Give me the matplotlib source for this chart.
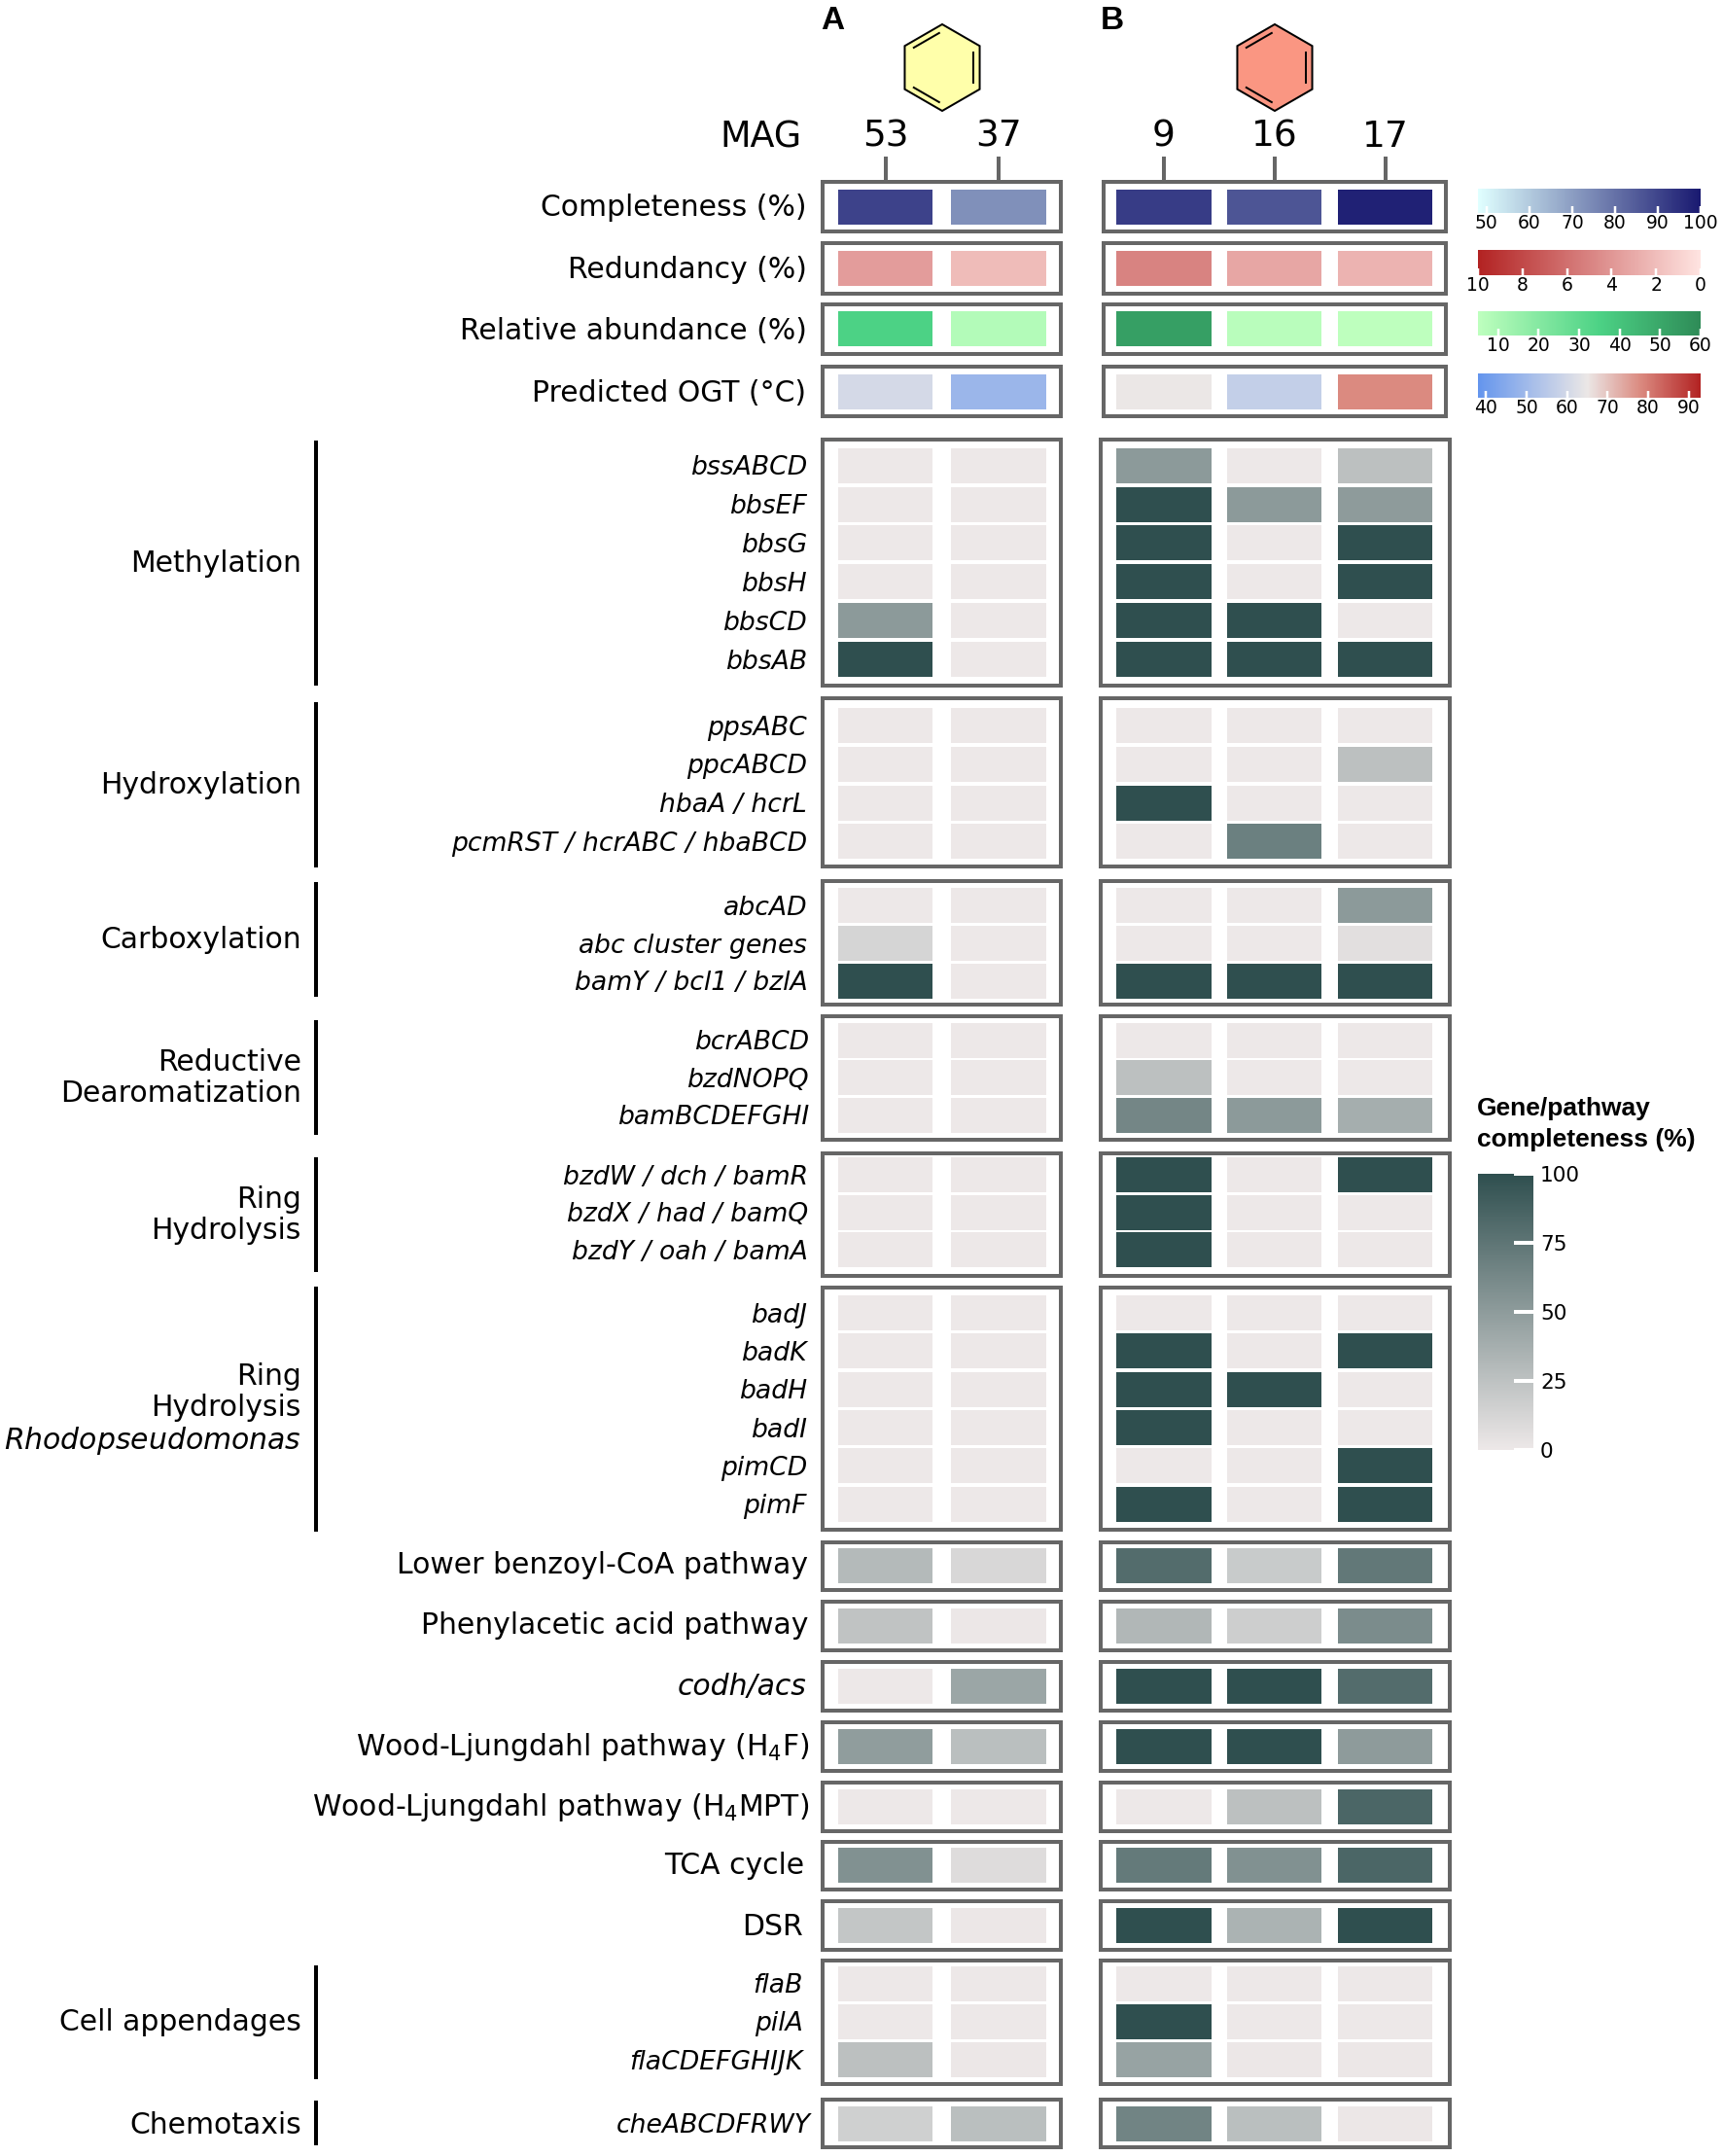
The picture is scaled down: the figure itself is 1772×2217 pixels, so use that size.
import matplotlib
matplotlib.use("Agg")
import matplotlib.pyplot as plt
import numpy as np
from matplotlib.colors import LinearSegmentedColormap, Normalize
from matplotlib.cm import ScalarMappable
from matplotlib.patches import Polygon

plt.rcParams['font.family'] = 'DejaVu Sans'
plt.rcParams['mathtext.fontset'] = 'dejavusans'
plt.rcParams['mathtext.default'] = 'regular'

W, H = 1772, 2217
mags_a = ['53', '37']
mags_b = ['9', '16', '17']

# ---- genome statistics (A: 53, 37; B: 9, 16, 17)
completeness = [90.6, 73, 92, 86.5, 98]
redundancy = [3.7, 2.1, 5.0, 3.2, 2.5]
abundance = [35, 8, 53, 6.5, 5]
ogt = [60.4, 49, 65, 57, 78]

# ---- gene / pathway completeness, rows x [53, 37, 9, 16, 17]
methylation_genes = ['bssABCD', 'bbsEF', 'bbsG', 'bbsH', 'bbsCD', 'bbsAB']
methylation = [[0, 0, 51, 0, 26], [0, 0, 100, 51, 50], [0, 0, 100, 0, 100],
               [0, 0, 100, 0, 100], [51, 0, 100, 100, 0], [100, 0, 100, 100, 100]]
hydroxylation_genes = ['ppsABC', 'ppcABCD', 'hbaA / hcrL', 'pcmRST / hcrABC / hbaBCD']
hydroxylation = [[0, 0, 0, 0, 0], [0, 0, 0, 0, 26], [0, 0, 100, 0, 0], [0, 0, 0, 68, 0]]
carboxylation_genes = ['abcAD', 'abc cluster genes', 'bamY / bcl1 / bzlA']
carboxylation = [[0, 0, 0, 0, 51], [12.6, 0, 0, 0, 6], [100, 0, 100, 100, 100]]
dearomatization_genes = ['bcrABCD', 'bzdNOPQ', 'bamBCDEFGHI']
dearomatization = [[0, 0, 0, 0, 0], [0, 0, 26, 0, 0], [0, 0, 64, 51, 38]]
hydrolysis_genes = ['bzdW / dch / bamR', 'bzdX / had / bamQ', 'bzdY / oah / bamA']
hydrolysis = [[0, 0, 100, 0, 100], [0, 0, 100, 0, 0], [0, 0, 100, 0, 0]]
rhodo_genes = ['badJ', 'badK', 'badH', 'badI', 'pimCD', 'pimF']
rhodo = [[0, 0, 0, 0, 0], [0, 0, 100, 0, 100], [0, 0, 100, 100, 0],
         [0, 0, 100, 0, 0], [0, 0, 0, 0, 100], [0, 0, 100, 0, 100]]
lower_benzoyl = [30, 11, 81, 19.5, 73]
phenylacetic = [24, 1, 32, 17, 60]
codh_acs = [0, 43, 100, 100, 81]
wl_h4f = [49, 27, 100, 100, 50]
wl_h4mpt = [0, 0, 0, 26, 85]
tca = [57, 8, 72, 57, 85]
dsr = [22, 1, 100, 35, 100]
appendage_genes = ['flaB', 'pilA', 'flaCDEFGHIJK']
appendages = [[0, 0, 0, 0, 0], [0, 0, 100, 0, 0], [26, 1, 45, 1, 1]]
chemotaxis = [16, 27, 65, 27, 1]

gene_cmap = LinearSegmentedColormap.from_list('g', ['#EDE8E8', '#2F4F4F'])
comp_cmap = LinearSegmentedColormap.from_list('c', ['#E0FFFF', '#191970'])
red_cmap = LinearSegmentedColormap.from_list('r', ['#FFE4E1', '#B22222'])
abd_cmap = LinearSegmentedColormap.from_list('a', [(0, '#BEFFBE'), (30/55, '#4CD285'), (1, '#2E8B57')])
ogt_cmap = LinearSegmentedColormap.from_list('o', [(0, '#6495ED'), (27/55, '#EBE7E6'), (40/55, '#DB8B81'), (1, '#B22222')])
gene_norm = Normalize(0, 100)
comp_norm = Normalize(48, 100)
red_norm = Normalize(0, 10)
abd_norm = Normalize(5, 60)
ogt_norm = Normalize(38, 93)

fig = plt.figure(figsize=(W / 100, H / 100), dpi=100, facecolor='white')
PT = 0.72  # points per pixel at 100 dpi
BOX = '#666666'
FS = 21.5
GENE_FS = 19.2


def rect(l, t, r, b):
    return [l / W, 1 - b / H, (r - l) / W, (b - t) / H]


ov = fig.add_axes([0, 0, 1, 1], zorder=0)
ov.set_xlim(0, W)
ov.set_ylim(H, 0)
ov.axis('off')

A_X = (846.0, 1091.0, 910.5, 116.5)   # box left, right, centre of first cell, pitch
B_X = (1131.5, 1490.5, 1197.0, 113.85)
B_TOP_X = (1135, 1487, 1197.0, 113.85)
CELL_W, CELL_H = 97.2, 36.0


def panel(values, xgeo, box_t, box_b, cell_t, cell_b, cmap, norm, ticks=None):
    values = np.atleast_2d(values)
    nrow, ncol = values.shape
    l, r, c0, pitch = xgeo
    ax = fig.add_axes(rect(l, box_t, r, box_b), zorder=2)
    ypitch = (cell_b - cell_t - CELL_H) / (nrow - 1) if nrow > 1 else 40.0
    y0 = cell_t + CELL_H / 2
    ax.set_xlim((l - c0) / pitch, (r - c0) / pitch)
    ax.set_ylim((box_b - y0) / ypitch, (box_t - y0) / ypitch)
    for i, row in enumerate(values):
        ax.bar(np.arange(ncol), CELL_H / ypitch, width=CELL_W / pitch,
               bottom=i - CELL_H / ypitch / 2, color=cmap(norm(row)), linewidth=0)
    ax.set_yticks([])
    if ticks is None:
        ax.set_xticks([])
    else:
        ax.set_xticks(np.arange(ncol))
        ax.set_xticklabels(ticks, fontsize=27)
        ax.xaxis.tick_top()
        ax.tick_params(axis='x', length=26 * PT, width=4 * PT, color=BOX, pad=1.5, labelcolor='black')
    for s in ax.spines.values():
        s.set_color(BOX)
        s.set_linewidth(4 * PT)
    return y0, ypitch


def row_labels(labels, y0, ypitch, italic=True, x=830, fs=GENE_FS, dy=9.5):
    for i, lab in enumerate(labels):
        ov.text(x, y0 + i * ypitch + dy, lab, ha='right', va='baseline', fontsize=fs,
                style='italic' if italic else 'normal')


def both(values, t, b, ct, cb, cmap=gene_cmap, norm=gene_norm, top=False, ticks=False):
    v = np.atleast_2d(values)
    panel(v[:, :2], A_X, t, b, ct, cb, cmap, norm, mags_a if ticks else None)
    return panel(v[:, 2:], B_TOP_X if top else B_X, t, b, ct, cb, cmap, norm, mags_b if ticks else None)


# statistics rows
rows = [('Completeness (%)', completeness, 187, 238, 195, 231, comp_cmap, comp_norm, True, 8.5),
        ('Redundancy (%)', redundancy, 250, 302, 258, 294, red_cmap, red_norm, False, 10),
        ('Relative abundance (%)', abundance, 313, 364, 320, 356, abd_cmap, abd_norm, False, 11),
        ('Predicted OGT (°C)', ogt, 377, 428, 385, 421, ogt_cmap, ogt_norm, False, 10)]
for lab, vals, t, b, ct, cb, cm, nm, tk, dy in rows:
    y0, yp = both(vals, t, b, ct, cb, cm, nm, top=True, ticks=tk)
    row_labels([lab], y0, yp, italic=False, x=829.5, fs=FS, dy=dy)

# gene groups
groups = [('Methylation', methylation_genes, methylation, 452, 705, 460.7, 696, 453, 705, 830),
          ('Hydroxylation', hydroxylation_genes, hydroxylation, 718, 891, 728.3, 883.3, 722, 892, 830),
          ('Carboxylation', carboxylation_genes, carboxylation, 906, 1033, 913.3, 1027, 907, 1025, 831),
          ('Reductive\nDearomatization', dearomatization_genes, dearomatization, 1045, 1171.5, 1051.7, 1165, 1049, 1167, 832),
          ('Ring\nHydrolysis', hydrolysis_genes, hydrolysis, 1185.5, 1312, 1190.3, 1303.3, 1190, 1308, 831),
          ('Ring\nHydrolysis\n$\\mathit{Rhodopseudomonas}$', rhodo_genes, rhodo, 1324, 1573, 1332, 1564.7, 1323, 1575, 830),
          ('Cell appendages', appendage_genes, appendages, 2016, 2143, 2021.7, 2136, 2021, 2138, 826)]
for name, genes, vals, t, b, ct, cb, lt, lb, lx in groups:
    y0, yp = both(vals, t, b, ct, cb)
    shown = [r'$\mathit{abc}$ cluster genes' if g == 'abc cluster genes' else g for g in genes]
    row_labels(shown, y0, yp, x=lx)
    ov.plot([325, 325], [lt, lb], color='black', lw=4 * PT, solid_capstyle='butt')
    ov.text(310, (lt + lb) / 2 + 0.5, name, ha='right', va='center', fontsize=FS, linespacing=1.14)

# single-row pathways
single = [('Lower benzoyl-CoA pathway', lower_benzoyl, 1585.5, 1635, 1592.3, False, 831, 8),
          ('Phenylacetic acid pathway', phenylacetic, 1647, 1697, 1654, False, 831, 8),
          ('codh/acs', codh_acs, 1709, 1758.5, 1715.7, True, 830, 9),
          ('Wood-Ljungdahl pathway (H$_4$F)', wl_h4f, 1771, 1820.5, 1777.7, False, 832, 9),
          ('Wood-Ljungdahl pathway (H$_4$MPT)', wl_h4mpt, 1833, 1882.5, 1840, False, 832, 9),
          ('TCA cycle', tca, 1894, 1943, 1900.3, False, 827, 9),
          ('DSR', dsr, 1955, 2004.5, 1962, False, 826, 10.5)]
for lab, vals, t, b, ct, it, lx, dy in single:
    y0, yp = both(vals, t, b, ct, ct + CELL_H)
    row_labels([lab], y0, yp, italic=it, x=lx, fs=FS, dy=dy)

y0, yp = both(chemotaxis, 2159, 2208, 2165.7, 2201.7)
row_labels(['cheABCDFRWY'], y0, yp, x=834)
ov.plot([325, 325], [2160, 2206], color='black', lw=4 * PT, solid_capstyle='butt')
ov.text(310, 2194, 'Chemotaxis', ha='right', va='baseline', fontsize=FS)

# MAG heading and panel letters
ov.text(825, 152, 'MAG', ha='right', va='baseline', fontsize=26.3)
bold = dict(family='Liberation Sans', fontweight='bold', fontsize=24, va='baseline')
ov.text(844, 30, 'A', **bold)
ov.text(1132, 30, 'B', **bold)


# benzene rings
def hexagon(cx, cy, radius, color):
    ang = np.radians(np.arange(6) * 60 - 90)
    xs, ys = cx + radius * np.cos(ang), cy + radius * np.sin(ang)
    ov.add_patch(Polygon(np.c_[xs, ys], closed=True, facecolor=color, edgecolor='black', lw=2 * PT, joinstyle='miter'))
    for a, b in [(1, 2), (3, 4), (5, 0)]:
        mx, my = (xs[a] + xs[b]) / 2, (ys[a] + ys[b]) / 2
        dx, dy = cx - mx, cy - my
        f = 0.16
        u = 0.14
        p = np.array([xs[a] + dx * f, ys[a] + dy * f])
        q = np.array([xs[b] + dx * f, ys[b] + dy * f])
        p, q = p + (q - p) * u, q + (p - q) * u
        ov.plot([p[0], q[0]], [p[1], q[1]], color='black', lw=2 * PT, solid_capstyle='butt')


hexagon(969, 69.5, 44.5, '#FFFFAA')
hexagon(1311, 69.5, 44.5, '#FA9682')


# colour bars
def hbar(t, b, cmap, norm, ticks, invert=False):
    cax = fig.add_axes(rect(1520, t, 1749, b), zorder=2)
    cb = fig.colorbar(ScalarMappable(norm=norm, cmap=cmap), cax=cax, orientation='horizontal')
    cb.set_ticks(ticks)
    cb.outline.set_visible(False)
    cax.tick_params(axis='x', direction='in', color='white', length=7 * PT, width=2.5 * PT,
                    labelsize=13.5, pad=1)
    if invert:
        cax.invert_xaxis()


hbar(194, 219, comp_cmap, comp_norm, [50, 60, 70, 80, 90, 100])
hbar(257, 283, red_cmap, red_norm, [10, 8, 6, 4, 2, 0], invert=True)
hbar(320, 345, abd_cmap, abd_norm, [10, 20, 30, 40, 50, 60])
hbar(384, 409, ogt_cmap, ogt_norm, [40, 50, 60, 70, 80, 90])

gax = fig.add_axes(rect(1520, 1207, 1577, 1491), zorder=2)
gcb = fig.colorbar(ScalarMappable(norm=gene_norm, cmap=gene_cmap), cax=gax)
gcb.set_ticks([0, 25, 50, 75, 100])
gcb.outline.set_visible(False)
gax.tick_params(axis='y', direction='in', color='white', length=20 * PT, width=4 * PT,
                labelsize=15.6, pad=5)
ov.text(1519, 1147, 'Gene/pathway', family='Liberation Sans', fontweight='bold', fontsize=19, va='baseline')
ov.text(1519, 1178.5, 'completeness (%)', family='Liberation Sans', fontweight='bold', fontsize=19, va='baseline')

fig.savefig('out.png', dpi=100, facecolor='white')
